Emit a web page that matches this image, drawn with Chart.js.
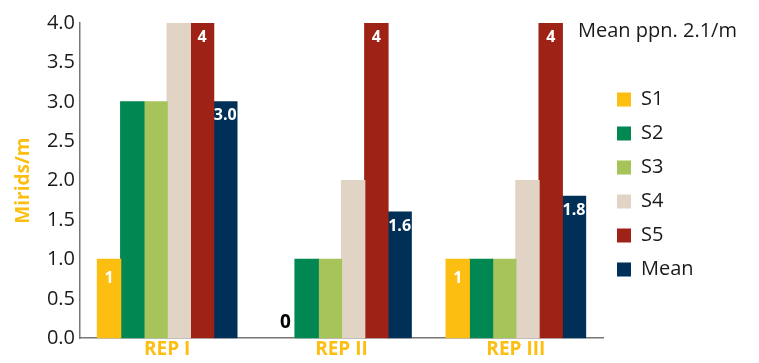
<!DOCTYPE html>
<html>
<head>
<meta charset="utf-8">
<script src="https://cdn.jsdelivr.net/npm/chart.js@4.4.1/dist/chart.umd.min.js"></script>
<style>
    html, body { margin: 0; padding: 0; background: #fff; }
    #wrap { width: 759px; height: 363px; }
</style>
</head>
<body>
<div id="wrap"><canvas id="chart"></canvas></div>
<script>
// 데이터
const categories = ['REP I', 'REP II', 'REP III'];
const seriesNames = ['S1', 'S2', 'S3', 'S4', 'S5', 'Mean'];
const s1 = [1, 0, 1];
const s2 = [3, 1, 1];
const s3 = [3, 1, 1];
const s4 = [4, 2, 2];
const s5 = [4, 4, 4];
const meanVals = [3.0, 1.6, 1.8];
const colors = ['#FDBE12', '#008752', '#A6C45A', '#E2D4C5', '#9E2216', '#003057'];
const labelledSeries = [0, 4, 5];   // 값 표시하는 시리즈
const noteText = 'Mean ppn. 2.1/m';

const FONT = "'Open Sans', sans-serif";
const ORANGE = '#FDBE12';

// 막대 위 값 표시
const valueLabels = {
    id: 'valueLabels',
    afterDatasetsDraw(chart) {
        const ctx = chart.ctx;
        ctx.save();
        ctx.textAlign = 'center';
        ctx.textBaseline = 'middle';
        labelledSeries.forEach(di => {
            const meta = chart.getDatasetMeta(di);
            const ds = chart.data.datasets[di];
            meta.data.forEach((bar, i) => {
                const v = ds.data[i];
                const txt = di === 5 ? v.toFixed(1) : String(v);
                if (v === 0) {
                    ctx.fillStyle = '#000';
                    ctx.font = `bold 19px ${FONT}`;
                    ctx.fillText(txt, bar.x + 2, bar.base - 16);
                } else {
                    ctx.fillStyle = '#fff';
                    ctx.font = `bold 16px ${FONT}`;
                    ctx.fillText(txt, bar.x, bar.y + (di === 0 ? 19 : 14));
                }
            });
        });
        ctx.restore();
    }
};

// 오른쪽 상단 메모
const noteLabel = {
    id: 'noteLabel',
    afterDraw(chart) {
        const ctx = chart.ctx;
        ctx.save();
        ctx.fillStyle = '#1a1a1a';
        ctx.font = `20px ${FONT}`;
        ctx.textAlign = 'left';
        ctx.textBaseline = 'alphabetic';
        ctx.fillText(noteText, 578, 37);
        ctx.restore();
    }
};

// 범례 폭 고정
const legendWidth = {
    id: 'legendWidth',
    beforeInit(chart) {
        const origFit = chart.legend.fit;
        chart.legend.fit = function () {
            origFit.bind(chart.legend)();
            this.width = 156;
        };
    }
};

const datasets = [s1, s2, s3, s4, s5, meanVals].map((d, i) => ({
    label: seriesNames[i],
    data: d,
    backgroundColor: colors[i],
    borderWidth: 0,
    inflateAmount: c => (c.raw === 0 ? 0 : 0.6),
    barPercentage: 1.0,
    categoryPercentage: 0.8
}));

new Chart(document.getElementById('chart'), {
    type: 'bar',
    data: { labels: categories, datasets },
    options: {
        responsive: true,
        maintainAspectRatio: false,
        animation: false,
        layout: { padding: { top: 23, right: 0, bottom: 2, left: 12 } },
        plugins: {
            legend: {
                position: 'right',
                align: 'center',
                fullSize: false,
                // 범례를 약간 아래로 내리기 위한 빈 제목
                title: {
                    display: true,
                    text: ' ',
                    padding: { top: 1, bottom: 1 },
                    font: { size: 5 }
                },
                labels: {
                    boxWidth: 14,
                    boxHeight: 14,
                    padding: 14,
                    color: '#1a1a1a',
                    font: { family: FONT, size: 20 }
                }
            },
            tooltip: { enabled: false }
        },
        scales: {
            y: {
                min: 0,
                max: 4,
                ticks: {
                    stepSize: 0.5,
                    color: '#1a1a1a',
                    padding: 5,
                    font: { family: FONT, size: 20 },
                    callback: v => v.toFixed(1)
                },
                grid: { display: false, drawTicks: false },
                border: { color: '#777', width: 1.5 },
                title: {
                    display: true,
                    text: 'Mirids/m',
                    color: ORANGE,
                    padding: 0,
                    font: { family: FONT, size: 19, weight: 'bold' }
                },
                afterFit(scale) { scale.width = 68; }
            },
            x: {
                ticks: {
                    color: ORANGE,
                    padding: 0,
                    font: { family: FONT, size: 19, weight: 'bold' }
                },
                grid: { display: false, drawTicks: false },
                border: { color: '#777', width: 1.5 }
            }
        }
    },
    plugins: [valueLabels, noteLabel, legendWidth]
});
</script>
</body>
</html>
